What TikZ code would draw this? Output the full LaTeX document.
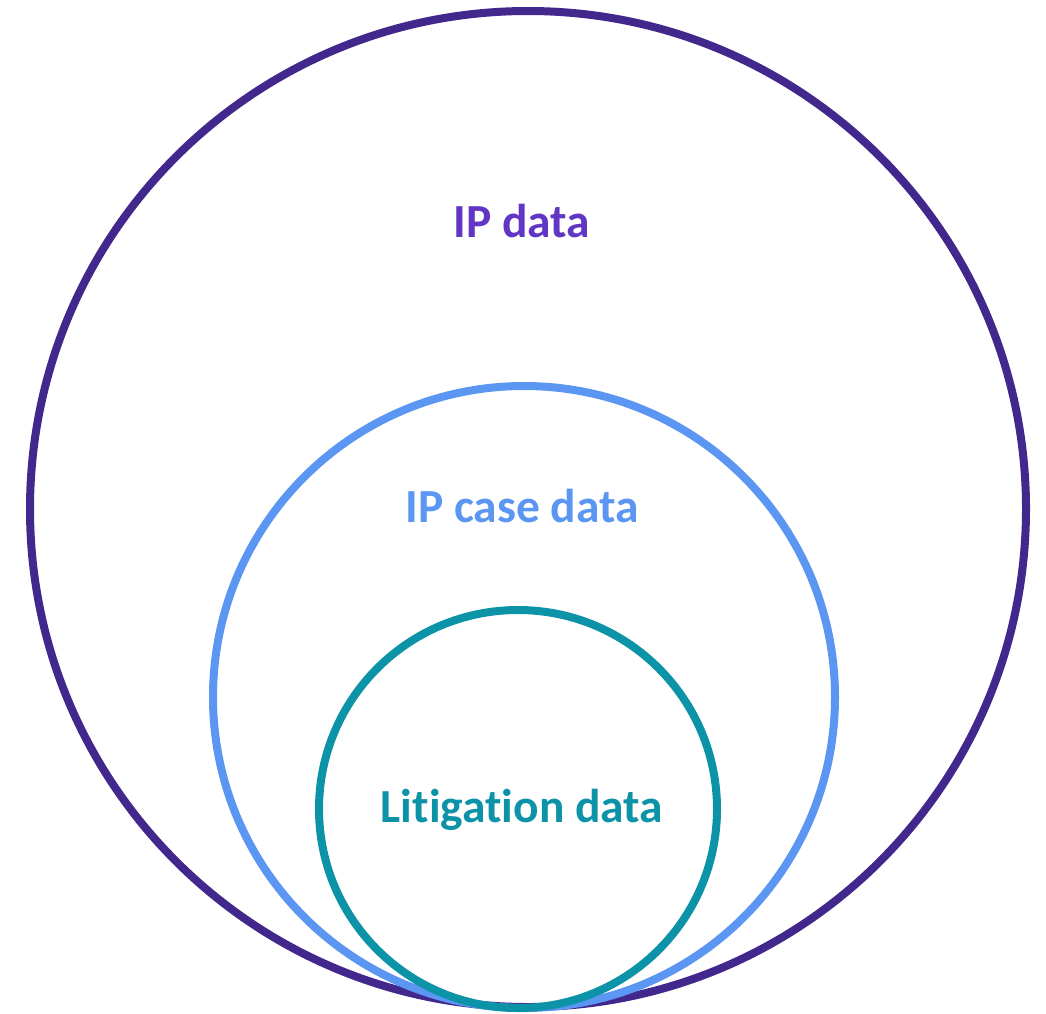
\documentclass[tikz,border=0pt]{standalone}
\usepackage{fontspec}
\setmainfont[Ligatures={NoCommon,NoContextual}]{Carlito}
\definecolor{ipdark}{HTML}{42288C}
\definecolor{iptext}{HTML}{6236C4}
\definecolor{caseblue}{HTML}{5B96F2}
\definecolor{litteal}{HTML}{0D93A7}
\begin{document}
\begin{tikzpicture}[x=1pt, y=-1pt,
    ring/.style={draw=#1, line width=8pt},
    lbl/.style={text=#1, font=\fontsize{47.5}{54}\selectfont\bfseries, anchor=base, inner sep=0pt}]

       \useasboundingbox (0,0) rectangle (1046,1013);

       \draw[ring=ipdark]   (528,509) circle (498pt);
       \draw[ring=caseblue] (524,697) circle (311pt);
       \draw[ring=litteal]  (518,809) circle (199pt);

       \node[lbl=iptext]   (ip)   at (522,237) {IP data};
       \node[lbl=caseblue] (case) at (522,522) {IP case data};
       \node[lbl=litteal]  (lit)  at (522,822) {Litigation data};
     \end{tikzpicture}
\end{document}
